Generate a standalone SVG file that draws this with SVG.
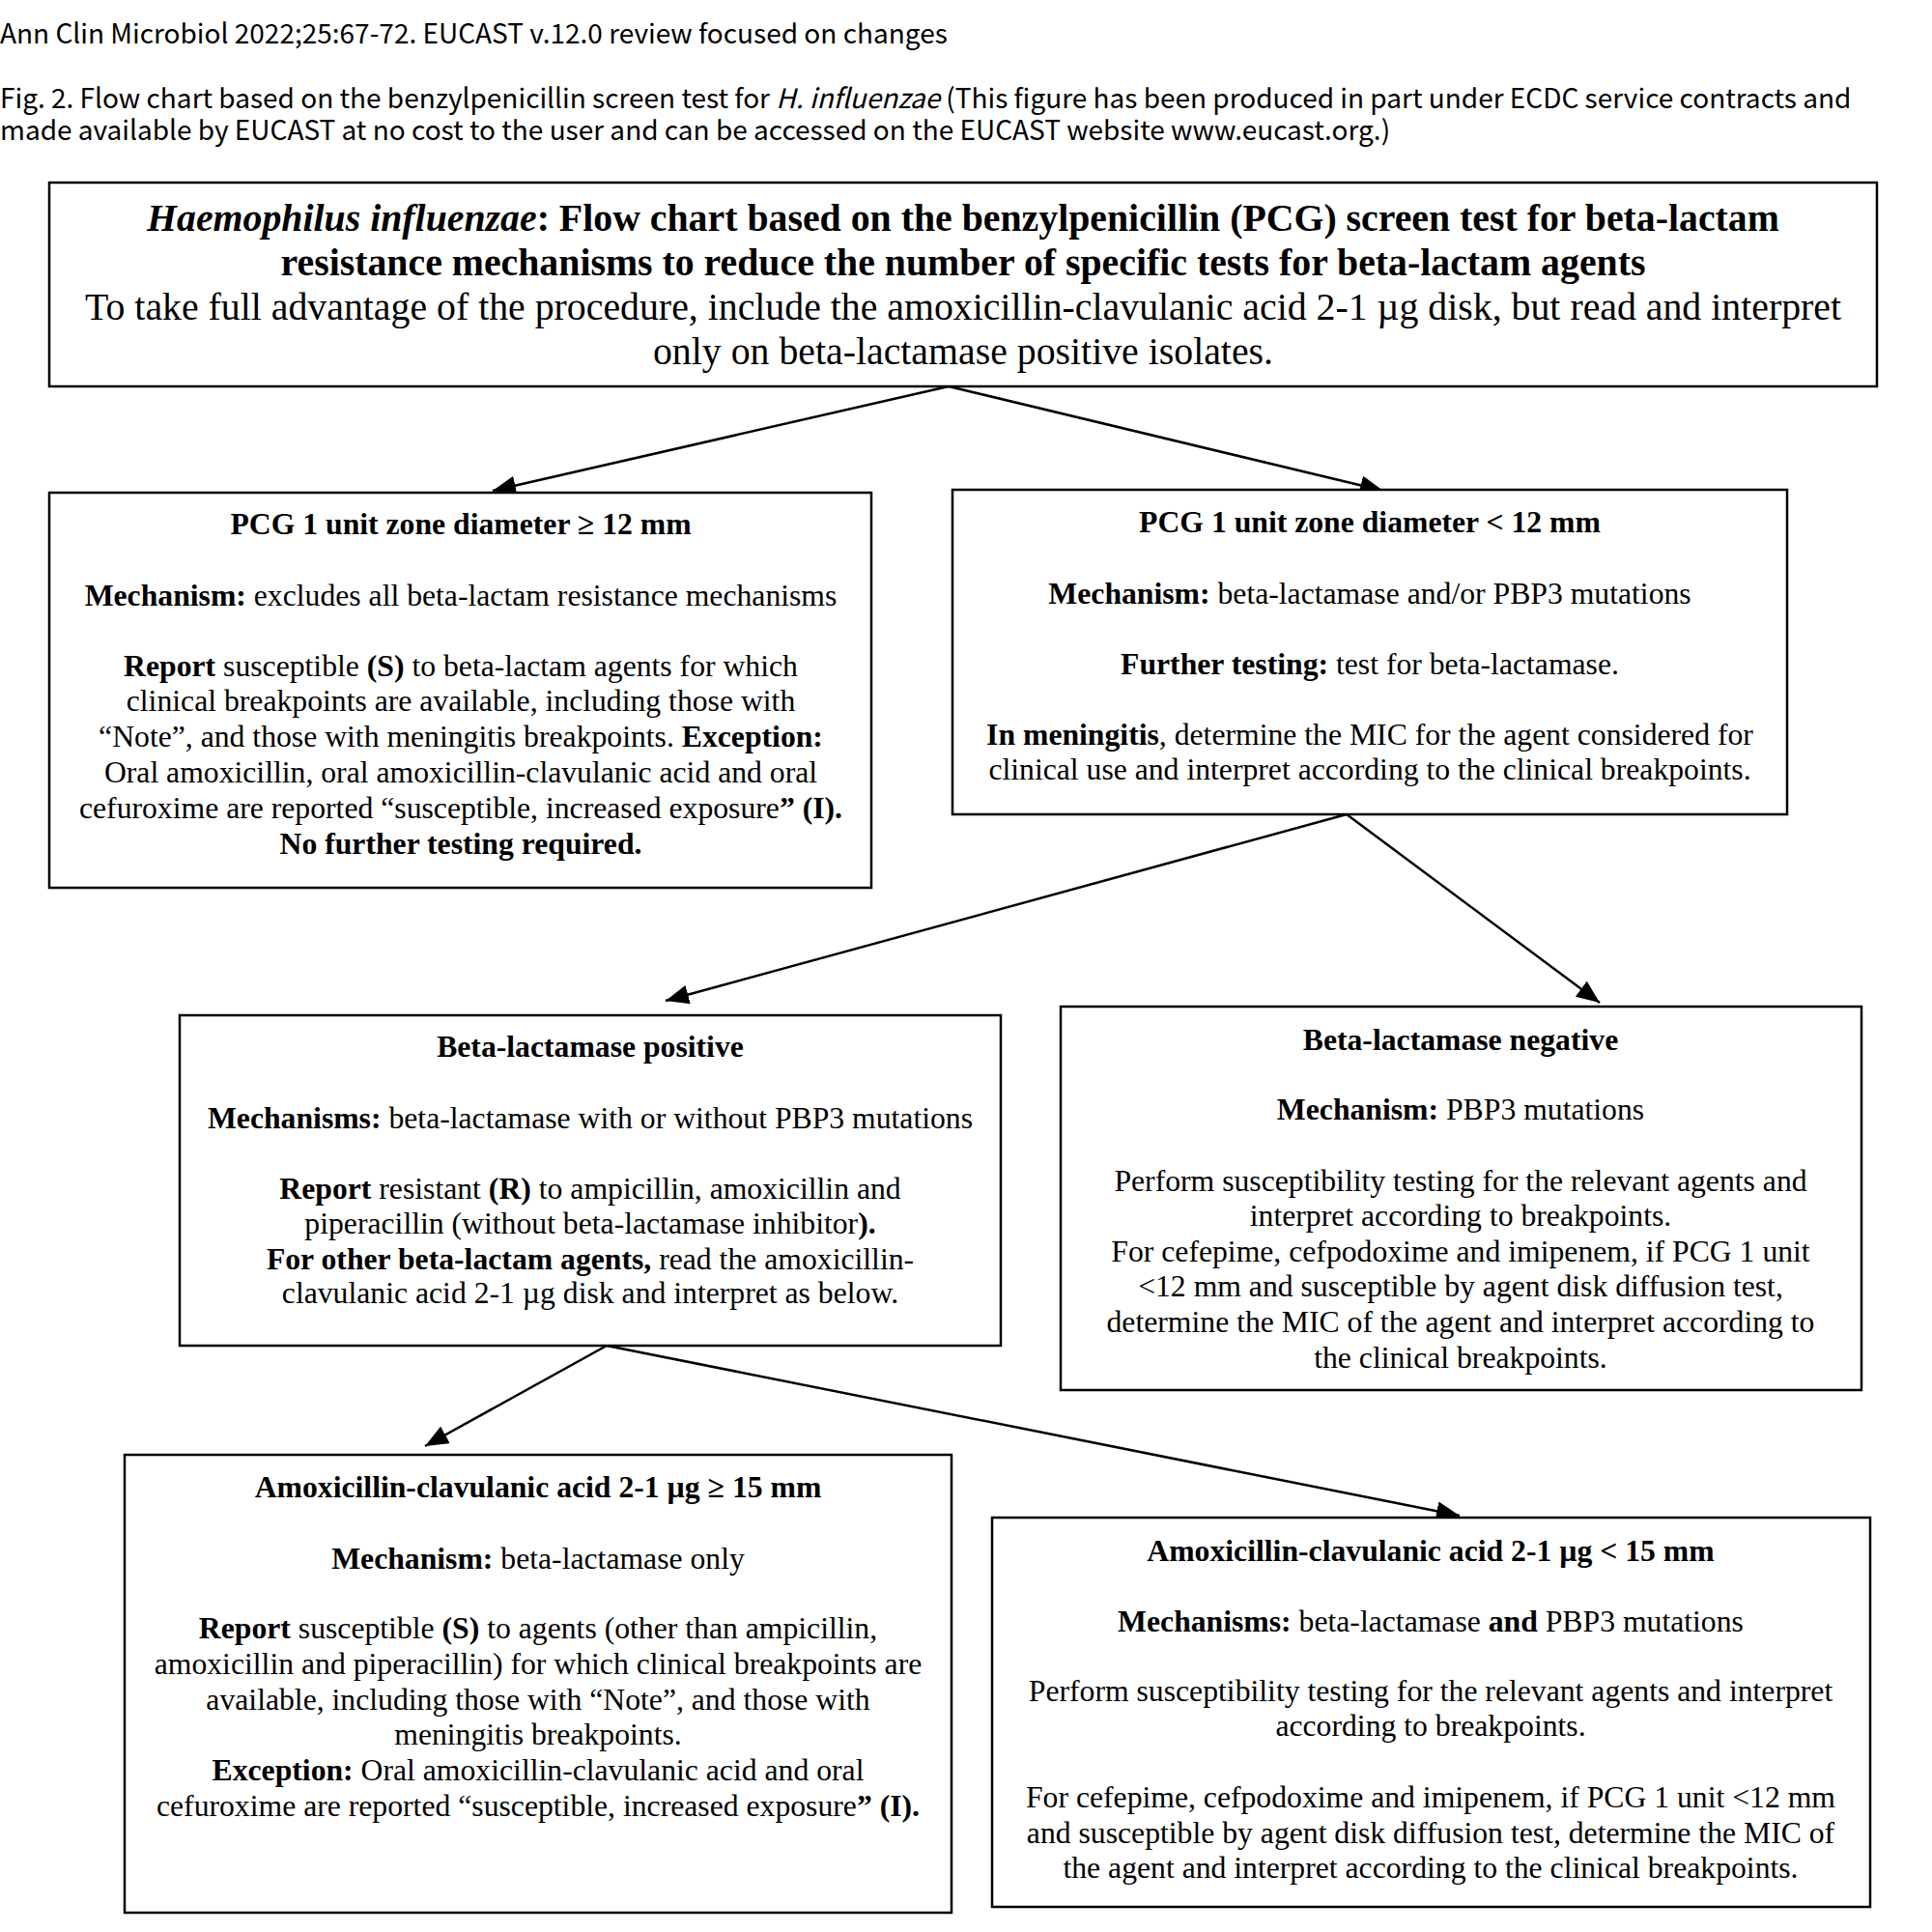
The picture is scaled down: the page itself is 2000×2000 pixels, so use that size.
<svg xmlns="http://www.w3.org/2000/svg" width="2000" height="2000" viewBox="0 0 2000 2000">
<defs>
<style>
.hd{font-family:"Noto Sans CJK KR","Noto Sans",sans-serif;font-size:28px;fill:#000}
.t{font-family:"Liberation Serif","Times New Roman",serif;font-size:31.7px;text-anchor:middle;fill:#000}
.tt{font-family:"Liberation Serif","Times New Roman",serif;font-size:39.8px;text-anchor:middle;fill:#000}
.b{font-weight:bold}
.i{font-style:italic}
.box{fill:#fff;stroke:#000;stroke-width:2.5}
.edge{stroke:#000;stroke-width:2.5;fill:none;marker-end:url(#ah)}
</style>
<marker id="ah" markerUnits="userSpaceOnUse" markerWidth="26" markerHeight="20" refX="24" refY="10" orient="auto">
<path d="M0,0 L24,10 L0,20 Z" fill="#000"/>
</marker>
</defs>
<rect width="2000" height="2000" fill="#fff"/>

<g id="header">
<text class="hd" x="0" y="45">Ann Clin Microbiol 2022;25:67-72. EUCAST v.12.0 review focused on changes</text>
<text class="hd" x="0" y="112">Fig. 2. Flow chart based on the benzylpenicillin screen test for <tspan class="i">H. influenzae</tspan> (This figure has been produced in part under ECDC service contracts and</text>
<text class="hd" x="0" y="145">made available by EUCAST at no cost to the user and can be accessed on the EUCAST website www.eucast.org.)</text>
</g>

<g id="connectors">
<line class="edge" x1="982" y1="400" x2="510" y2="508"/>
<line class="edge" x1="982" y1="400" x2="1432" y2="508"/>
<line class="edge" x1="1394" y1="843" x2="689" y2="1036"/>
<line class="edge" x1="1394" y1="843" x2="1656" y2="1038"/>
<line class="edge" x1="628" y1="1393" x2="440" y2="1497"/>
<line class="edge" x1="628" y1="1393" x2="1511" y2="1569"/>
</g>

<g id="top">
<rect class="box" x="51" y="189" width="1892" height="211"/>
<text class="tt b" x="997" y="239"><tspan class="i">Haemophilus influenzae</tspan>: Flow chart based on the benzylpenicillin (PCG) screen test for beta-lactam</text>
<text class="tt b" x="997" y="285">resistance mechanisms to reduce the number of specific tests for beta-lactam agents</text>
<text class="tt" x="997" y="331">To take full advantage of the procedure, include the amoxicillin-clavulanic acid 2-1 µg disk, but read and interpret</text>
<text class="tt" x="997" y="377">only on beta-lactamase positive isolates.</text>
</g>

<g id="pcg-ge12">
<rect class="box" x="51" y="510" width="851" height="409"/>
<text class="t b" x="477" y="553">PCG 1 unit zone diameter ≥ 12 mm</text>
<text class="t" x="477" y="627"><tspan class="b">Mechanism:</tspan> excludes all beta-lactam resistance mechanisms</text>
<text class="t" x="477" y="700"><tspan class="b">Report</tspan> susceptible <tspan class="b">(S)</tspan> to beta-lactam agents for which</text>
<text class="t" x="477" y="736">clinical breakpoints are available, including those with</text>
<text class="t" x="477" y="773">“Note”, and those with meningitis breakpoints. <tspan class="b">Exception:</tspan></text>
<text class="t" x="477" y="810">Oral amoxicillin, oral amoxicillin-clavulanic acid and oral</text>
<text class="t" x="477" y="847">cefuroxime are reported “susceptible, increased exposure<tspan class="b">” (I).</tspan></text>
<text class="t b" x="477" y="884">No further testing required.</text>
</g>

<g id="pcg-lt12">
<rect class="box" x="986" y="507" width="864" height="336"/>
<text class="t b" x="1418" y="551">PCG 1 unit zone diameter &lt; 12 mm</text>
<text class="t" x="1418" y="625"><tspan class="b">Mechanism:</tspan> beta-lactamase and/or PBP3 mutations</text>
<text class="t" x="1418" y="698"><tspan class="b">Further testing:</tspan> test for beta-lactamase.</text>
<text class="t" x="1418" y="771"><tspan class="b">In meningitis</tspan>, determine the MIC for the agent considered for</text>
<text class="t" x="1418" y="807">clinical use and interpret according to the clinical breakpoints.</text>
</g>

<g id="bl-pos">
<rect class="box" x="186" y="1051" width="850" height="342"/>
<text class="t b" x="611" y="1094">Beta-lactamase positive</text>
<text class="t" x="611" y="1168"><tspan class="b">Mechanisms:</tspan> beta-lactamase with or without PBP3 mutations</text>
<text class="t" x="611" y="1241"><tspan class="b">Report</tspan> resistant <tspan class="b">(R)</tspan> to ampicillin, amoxicillin and</text>
<text class="t" x="611" y="1277">piperacillin (without beta-lactamase inhibitor<tspan class="b">).</tspan></text>
<text class="t" x="611" y="1314"><tspan class="b">For other beta-lactam agents,</tspan> read the amoxicillin-</text>
<text class="t" x="611" y="1349">clavulanic acid 2-1 µg disk and interpret as below.</text>
</g>

<g id="bl-neg">
<rect class="box" x="1098" y="1042" width="829" height="397"/>
<text class="t b" x="1512" y="1087">Beta-lactamase negative</text>
<text class="t" x="1512" y="1159"><tspan class="b">Mechanism:</tspan> PBP3 mutations</text>
<text class="t" x="1512" y="1233">Perform susceptibility testing for the relevant agents and</text>
<text class="t" x="1512" y="1269">interpret according to breakpoints.</text>
<text class="t" x="1512" y="1306">For cefepime, cefpodoxime and imipenem, if PCG 1 unit</text>
<text class="t" x="1512" y="1342">&lt;12 mm and susceptible by agent disk diffusion test,</text>
<text class="t" x="1512" y="1379">determine the MIC of the agent and interpret according to</text>
<text class="t" x="1512" y="1416">the clinical breakpoints.</text>
</g>

<g id="amc-ge15">
<rect class="box" x="129" y="1506" width="856" height="474"/>
<text class="t b" x="557" y="1550">Amoxicillin-clavulanic acid 2-1 µg ≥ 15 mm</text>
<text class="t" x="557" y="1624"><tspan class="b">Mechanism:</tspan> beta-lactamase only</text>
<text class="t" x="557" y="1696"><tspan class="b">Report</tspan> susceptible <tspan class="b">(S)</tspan> to agents (other than ampicillin,</text>
<text class="t" x="557" y="1733">amoxicillin and piperacillin) for which clinical breakpoints are</text>
<text class="t" x="557" y="1770">available, including those with “Note”, and those with</text>
<text class="t" x="557" y="1806">meningitis breakpoints.</text>
<text class="t" x="557" y="1843"><tspan class="b">Exception:</tspan> Oral amoxicillin-clavulanic acid and oral</text>
<text class="t" x="557" y="1880">cefuroxime are reported “susceptible, increased exposure<tspan class="b">” (I).</tspan></text>
</g>

<g id="amc-lt15">
<rect class="box" x="1027" y="1571" width="909" height="403"/>
<text class="t b" x="1481" y="1616">Amoxicillin-clavulanic acid 2-1 µg &lt; 15 mm</text>
<text class="t" x="1481" y="1689"><tspan class="b">Mechanisms:</tspan> beta-lactamase <tspan class="b">and</tspan> PBP3 mutations</text>
<text class="t" x="1481" y="1761">Perform susceptibility testing for the relevant agents and interpret</text>
<text class="t" x="1481" y="1797">according to breakpoints.</text>
<text class="t" x="1481" y="1871">For cefepime, cefpodoxime and imipenem, if PCG 1 unit &lt;12 mm</text>
<text class="t" x="1481" y="1908">and susceptible by agent disk diffusion test, determine the MIC of</text>
<text class="t" x="1481" y="1944">the agent and interpret according to the clinical breakpoints.</text>
</g>
</svg>
